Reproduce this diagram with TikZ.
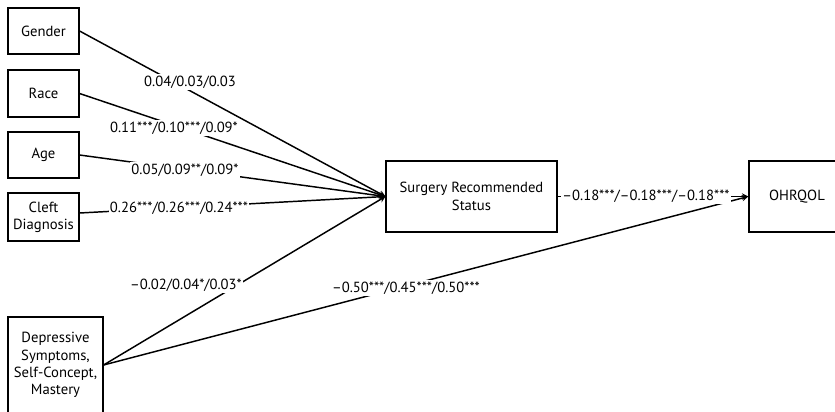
\documentclass[tikz,border=0pt]{standalone}
\usepackage{fontspec}
\setmainfont{PT Sans}
\usepackage{tikz}

\begin{document}
\begin{tikzpicture}[x=0.75pt,y=-0.75pt,>=stealth,line width=1.1pt,
  var/.style={draw,align=center,inner sep=2pt,font=\fontsize{11}{13}\selectfont},
  coef/.style={fill=white,inner sep=1pt,font=\fontsize{11}{13}\selectfont}]
  \useasboundingbox (0,0) rectangle (835,411);
  % predictors
  \node[var,minimum width=53pt,minimum height=34.5pt] (gender) at (43.5,31) {Gender};
  \node[var,minimum width=53pt,minimum height=35pt] (race) at (43.5,93.5) {Race};
  \node[var,minimum width=53pt,minimum height=34.5pt] (age) at (43.5,155) {Age};
  \node[var,minimum width=53pt,minimum height=36pt] (cleft) at (43.5,217) {Cleft\\Diagnosis};
  \node[var,minimum width=71pt,minimum height=72pt] (depr) at (55.5,365) {Depressive\\Symptoms,\\Self-Concept,\\Mastery};
  % mediator and outcome
  \node[var,minimum width=128pt,minimum height=53pt] (surgery) at (471.5,196.5) {Surgery Recommended\\Status};
  \node[var,minimum width=72pt,minimum height=53pt] (ohrqol) at (797,196.5) {OHRQOL};
  % paths
  \draw[->] (gender.east) -- (surgery.west);
  \draw[->] (race.east) -- (surgery.west);
  \draw[->] (age.east) -- (surgery.west);
  \draw[->] ([yshift=3pt]cleft.east) -- (surgery.west);
  \draw[->] (depr.east) -- (surgery.west);
  \draw[->] (depr.east) -- (ohrqol.west);
  \draw[->] (surgery.east) -- (ohrqol.west);
  % coefficients
  \node[coef] (cgender) at (190,82) {0.04/0.03/0.03};
  \node[coef] (crace) at (174,128) {0.11***/0.10***/0.09*};
  \node[coef] (cage) at (185,170) {0.05/0.09**/0.09*};
  \node[coef] (ccleft) at (179,208) {0.26***/0.26***/0.24***};
  \node[coef] (cdepr) at (186,285) {--0.02/0.04*/0.03*};
  \node[coef] (cdeprout) at (406,288) {--0.50***/0.45***/0.50***};
  \node[coef] (csurgery) at (646,196) {--0.18***/--0.18***/--0.18***};
\end{tikzpicture}
\end{document}
